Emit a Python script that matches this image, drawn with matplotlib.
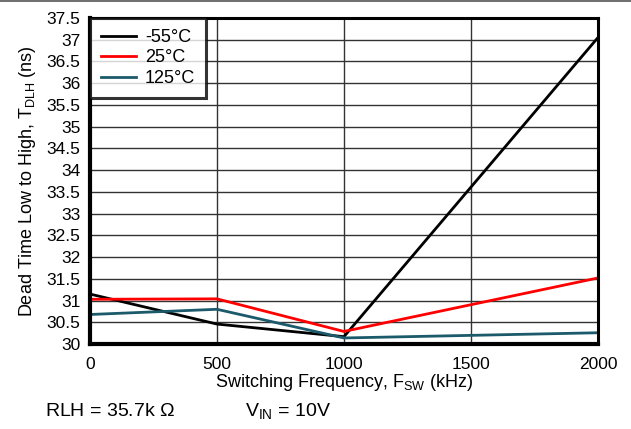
import matplotlib

matplotlib.use("Agg")
import matplotlib.pyplot as plt
from matplotlib.lines import Line2D

plt.rcParams["font.family"] = ["Liberation Sans", "DejaVu Sans"]
plt.rcParams["mathtext.fontset"] = "custom"
plt.rcParams["mathtext.rm"] = "Liberation Sans"
plt.rcParams["mathtext.it"] = "Liberation Sans"
plt.rcParams["mathtext.default"] = "rm"

# dead time vs switching frequency, one curve per temperature
freq_khz = [0, 500, 1000, 2000]
t_m55 = [31.15, 30.46, 30.17, 37.05]
t_25 = [31.03, 31.04, 30.29, 31.52]
t_125 = [30.68, 30.80, 30.14, 30.26]
labels = ["-55°C", "25°C", "125°C"]
colors = ["#000000", "#ff0000", "#1b5a6a"]

fig = plt.figure(figsize=(6.31, 4.29), dpi=100)
ax = fig.add_axes([0.1426, 0.198, 0.805, 0.760])

for ys, lab, col in zip([t_m55, t_25, t_125], labels, colors):
    ax.plot(freq_khz, ys, color=col, linewidth=2.0, label=lab, zorder=3)

ax.set_xlim(0, 2000)
ax.set_ylim(30, 37.5)
ax.set_xticks([0, 500, 1000, 1500, 2000])
ax.set_yticks([30 + 0.5 * i for i in range(16)])
ax.set_yticklabels([f"{30 + 0.5 * i:g}" for i in range(16)])
ax.tick_params(length=0, labelsize=12.5, pad=7)
ax.tick_params(axis="x", pad=9)
ax.grid(True, color="#333333", linewidth=1.0)

for side, lw in [("left", 3.0), ("bottom", 3.0), ("right", 2.2), ("top", 2.2)]:
    ax.spines[side].set_linewidth(lw)
    ax.spines[side].set_zorder(4)

ax.set_xlabel("Switching Frequency, F$_{\\mathrm{SW}}$ (kHz)", fontsize=13, labelpad=0)
ax.set_ylabel("Dead Time Low to High, T$_{\\mathrm{DLH}}$ (ns)", fontsize=13, labelpad=6)

leg = ax.legend(loc="upper left", fontsize=13, frameon=True, fancybox=False,
                borderaxespad=0, handlelength=1.95, handletextpad=0.5,
                labelspacing=0.2, borderpad=0.6)
leg.get_frame().set_edgecolor("black")
leg.get_frame().set_linewidth(2.2)
leg.set_zorder(5)

fig.text(0.071, 0.03, "RLH = 35.7k $\\Omega$", fontsize=14)
fig.text(0.388, 0.03, "V$_{\\mathrm{IN}}$ = 10V", fontsize=14)
fig.add_artist(Line2D([0, 1], [0.997, 0.997], color="#555555", linewidth=1.2))

fig.savefig("out.png", dpi=100)
